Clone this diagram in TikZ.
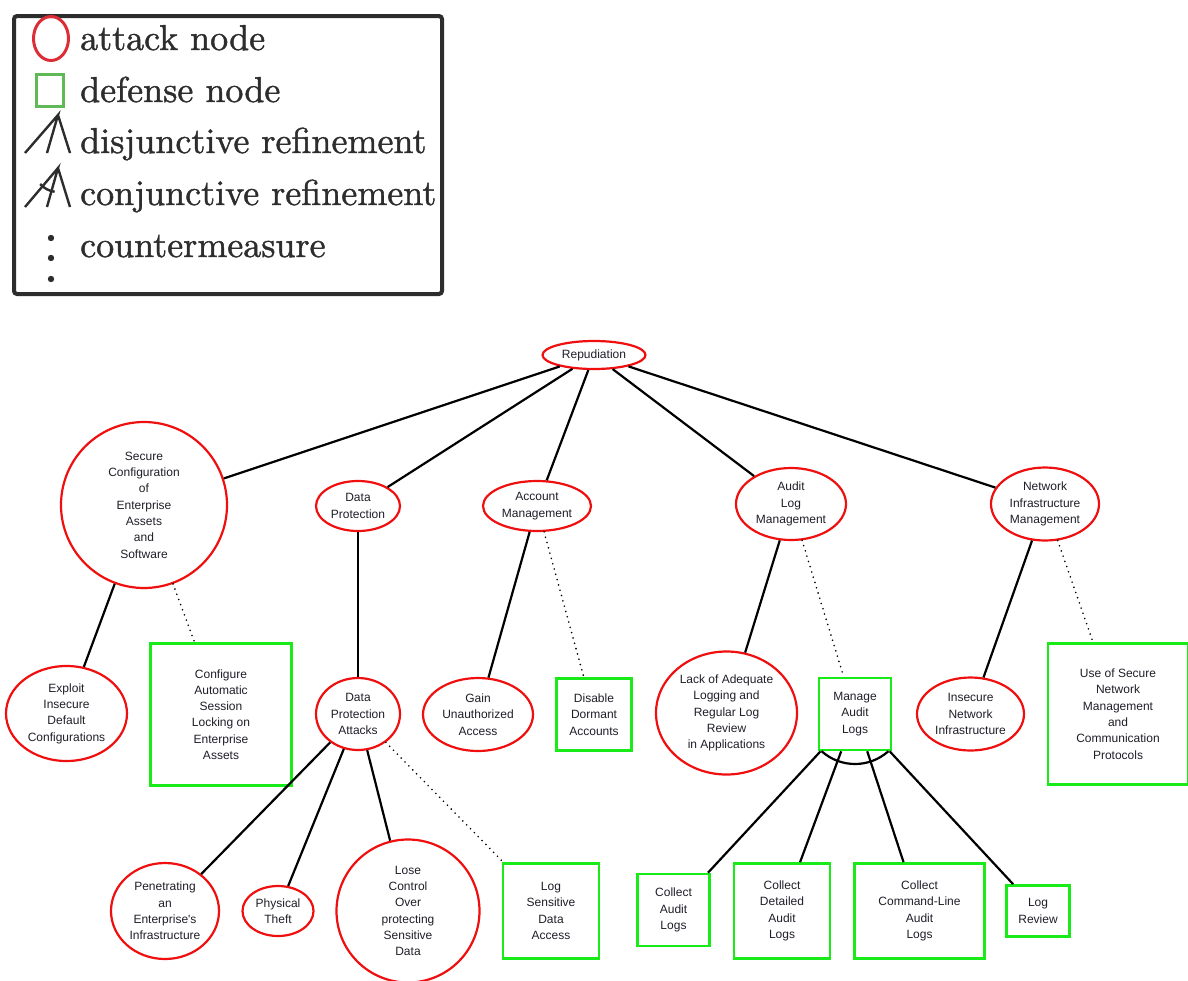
\documentclass[tikz,border=0pt]{standalone}
\usepackage{fontspec}
\newfontfamily\nodefont{Liberation Sans}
\newfontfamily\legfont{lmroman10-regular}[Extension=.otf, FakeBold=1.2]
\usetikzlibrary{shapes.geometric}

\definecolor{atkred}{RGB}{240,15,15}
\definecolor{defgreen}{RGB}{25,235,25}
\definecolor{legred}{RGB}{220,45,55}
\definecolor{leggreen}{RGB}{95,185,85}
\definecolor{inkgray}{RGB}{45,45,45}
\definecolor{labelink}{RGB}{30,30,40}

\tikzset{
  lbl/.style={align=center, text=labelink, font=\nodefont\fontsize{12}{16.3}\selectfont},
  attack/.style={lbl, ellipse, draw=atkred, line width=2.2pt, inner sep=0pt},
  defense/.style={lbl, rectangle, draw=defgreen, line width=2.6pt, inner sep=0pt},
  refine/.style={line width=2.2pt, black},
  counter/.style={line width=1.8pt, black, dash pattern=on 0pt off 5.5pt, line cap=round},
  legtext/.style={anchor=base west, text=inkgray, inner sep=0pt, font=\legfont\fontsize{36}{40}\selectfont},
  legline/.style={line width=2.4pt, inkgray},
}

\begin{document}
\begin{tikzpicture}[x=1pt,y=1pt]
\useasboundingbox (0,0) rectangle (1188,-980);

% ---------- legend ----------
\node[draw=inkgray, line width=4pt, rounded corners=3pt, minimum width=428pt, minimum height=278pt,
      anchor=north west, inner sep=0pt] (legend) at (12,-14) {};
\node[ellipse, draw=legred, line width=3pt, minimum width=35pt, minimum height=44pt, inner sep=0pt] (legatk) at (51,-38.5) {};
\node[rectangle, draw=leggreen, line width=3pt, minimum width=27pt, minimum height=32pt, inner sep=0pt] (legdef) at (50,-90.5) {};
\coordinate (djtop) at (58,-115);
\coordinate (djl) at (25,-153);
\coordinate (djm) at (47,-153);
\coordinate (djr) at (70,-153);
\draw[legline] (djl) -- (djtop) -- (djm) (djtop) -- (djr);
\coordinate (cjtop) at (58,-168);
\coordinate (cjl) at (25,-207);
\coordinate (cjm) at (47,-207);
\coordinate (cjr) at (70,-207);
\draw[legline] (cjl) -- (cjtop) -- (cjm) (cjtop) -- (cjr);
\draw[legline] ([shift={(-138:24pt)}]cjtop) arc[start angle=-138, end angle=-98, radius=24pt];
\fill[inkgray] (51,-238) circle (3.2pt) (51,-258) circle (3.2pt) (51,-279) circle (3.2pt);
\node[legtext] (lgA) at (80,-50) {attack node};
\node[legtext] (lgD) at (80,-102) {defense node};
\node[legtext] (lgO) at (80,-153) {disjunctive refinement};
\node[legtext] (lgC) at (80,-205) {conjunctive refinement};
\node[legtext] (lgM) at (80,-257) {countermeasure};

% ---------- tree nodes ----------
\node[attack, minimum width=103pt, minimum height=28pt] (rep) at (594,-355) {Repudiation};

\node[attack, minimum width=166pt, minimum height=166pt] (sec) at (144,-505)
  {Secure\\Configuration\\of\\Enterprise\\Assets\\and\\Software};
\node[attack, minimum width=84pt, minimum height=50pt] (dp) at (358,-506) {Data\\Protection};
\node[attack, minimum width=108pt, minimum height=50pt] (am) at (537,-506) {Account\\Management};
\node[attack, minimum width=110pt, minimum height=72pt] (alm) at (791,-504) {Audit\\Log\\Management};
\node[attack, minimum width=108pt, minimum height=73pt] (nim) at (1045,-504) {Network\\Infrastructure\\Management};

\node[attack, minimum width=121pt, minimum height=95pt] (exp) at (66.5,-713.5)
  {Exploit\\Insecure\\Default\\Configurations};
\node[defense, minimum width=141pt, minimum height=142pt] (cas) at (221,-714.5)
  {Configure\\Automatic\\Session\\Locking on\\Enterprise\\Assets};
\node[attack, minimum width=84pt, minimum height=72pt] (dpa) at (358,-714) {Data\\Protection\\Attacks};
\node[attack, minimum width=110pt, minimum height=73pt] (gua) at (478,-714.5) {Gain\\Unauthorized\\Access};
\node[defense, minimum width=75pt, minimum height=72pt] (dda) at (594,-714.5) {Disable\\Dormant\\Accounts};
\node[attack, minimum width=141pt, minimum height=123pt] (lal) at (726.5,-713)
  {Lack of Adequate\\Logging and\\Regular Log\\Review\\in Applications};
\node[defense, minimum width=72pt, minimum height=72pt] (mal) at (855,-714) {Manage\\Audit\\Logs};
\node[attack, minimum width=107pt, minimum height=73pt] (ini) at (970.5,-714) {Insecure\\Network\\Infrastructure};
\node[defense, minimum width=140pt, minimum height=141pt] (usn) at (1118,-714)
  {Use of Secure\\Network\\Management\\and\\Communication\\Protocols};

\node[attack, minimum width=108pt, minimum height=96pt] (pei) at (165,-911)
  {Penetrating\\an\\Enterprise's\\Infrastructure};
\node[attack, minimum width=71pt, minimum height=50pt] (pht) at (278,-911) {Physical\\Theft};
\node[attack, minimum width=143pt, minimum height=143pt] (lcs) at (408,-911)
  {Lose\\Control\\Over\\protecting\\Sensitive\\Data};
\node[defense, minimum width=96pt, minimum height=95pt] (lsd) at (551,-911) {Log\\Sensitive\\Data\\Access};
\node[defense, minimum width=72pt, minimum height=72pt] (cal) at (673.5,-910) {Collect\\Audit\\Logs};
\node[defense, minimum width=96pt, minimum height=95pt] (cdl) at (782,-911) {Collect\\Detailed\\Audit\\Logs};
\node[defense, minimum width=130pt, minimum height=95pt] (ccl) at (919.5,-911)
  {Collect\\Command-Line\\Audit\\Logs};
\node[defense, minimum width=63pt, minimum height=51pt] (lrv) at (1038,-911) {Log\\Review};

% ---------- refinements ----------
\draw[refine] (rep) -- (sec);
\draw[refine] (rep) -- (dp);
\draw[refine] (rep) -- (am);
\draw[refine] (rep) -- (alm);
\draw[refine] (rep) -- (nim);
\draw[refine] (sec) -- (exp);
\draw[refine] (dp) -- (dpa);
\draw[refine] (dpa) -- (pei);
\draw[refine] (dpa) -- (pht);
\draw[refine] (dpa) -- (lcs);
\draw[refine] (am) -- (gua);
\draw[refine] (alm) -- (lal);
\draw[refine] (nim) -- (ini);
\draw[refine] (mal) -- (cal);
\draw[refine] (mal) -- (cdl);
\draw[refine] (mal) -- (ccl);
\draw[refine] (mal) -- (lrv);
% conjunctive arc under Manage Audit Logs
\draw[refine] ([shift={(-132:50pt)}]mal.center) arc[start angle=-132, end angle=-48, radius=50pt];

% ---------- countermeasures ----------
\draw[counter] (sec) -- (cas);
\draw[counter] (dpa) -- (lsd);
\draw[counter] (am) -- (dda);
\draw[counter] (alm) -- (mal);
\draw[counter] (nim) -- (usn);
\end{tikzpicture}
\end{document}
